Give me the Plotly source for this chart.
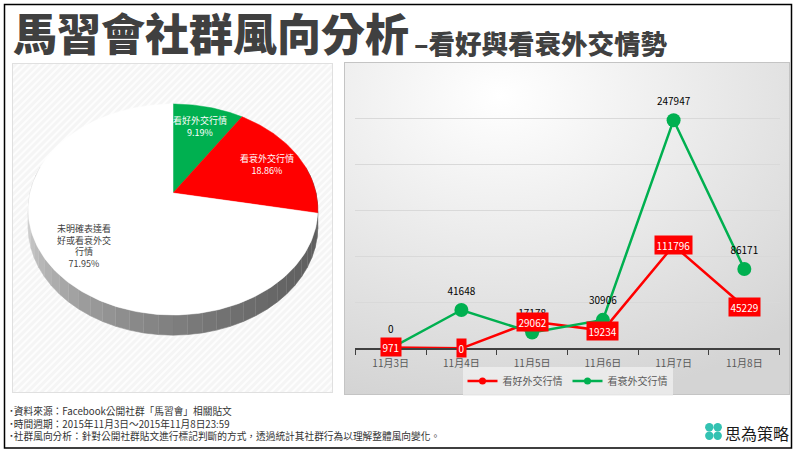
import base64
import math
import plotly.graph_objects as go

# ---------------- data ----------------
dates = ["11月3日", "11月4日", "11月5日", "11月6日", "11月7日", "11月8日"]
good_vals = [971, 0, 29062, 19234, 111796, 45229]        # 看好外交行情 (red)
bad_vals = [0, 41648, 17178, 30906, 247947, 86171]       # 看衰外交行情 (green)
series_names = ["看好外交行情", "看衰外交行情"]

pie_labels = ["看好外交行情", "看衰外交行情", "未明確表達看好或看衰外交行情"]
pie_pcts = [9.19, 18.86, 71.95]
pie_colors = ["#00b050", "#ff0000", "#ffffff"]
pie_text_colors = ["#ffffff", "#ffffff", "#404040"]

title_main = "馬習會社群風向分析"
title_sub = "–看好與看衰外交情勢"
notes = [
    "˙資料來源：Facebook公開社群「馬習會」相關貼文",
    "˙時間週期：2015年11月3日～2015年11月8日23:59",
    "˙社群風向分析：針對公開社群貼文進行標記判斷的方式，透過統計其社群行為以理解整體風向變化。",
]
logo_text = "思為策略"

W, H = 800, 451
FONT = "Noto Sans CJK TC, Noto Sans, sans-serif"
RED = "#ff0000"
GREEN = "#00b050"


def px(x):
    return x / W


def py(y):
    return 1 - y / H


def svg_uri(svg):
    return "data:image/svg+xml;base64," + base64.b64encode(svg.encode("utf-8")).decode("ascii")


fig = go.Figure()

# ---------------- pie (3D-look, perspective ellipse) ----------------
CX, CY, RX, RY, K, DEPTH = 173.0, 193.0, 143.0, 102.9, 0.1565, 17.0


def proj(theta_deg, r=1.0, dz=0.0):
    t = math.radians(theta_deg)
    den = 1 + K * r * math.cos(t)
    return CX + RX * r * math.sin(t) / den, CY - RY * r * math.cos(t) / den + dz / den


# side wall
step = 5
for a in range(75, 285, step):
    b = a + step
    xs, ys = [], []
    for th in [a + i * 0.5 for i in range(int(step / 0.5) + 1)]:
        x, y = proj(th)
        xs.append(x); ys.append(y)
    for th in [b - i * 0.5 for i in range(int(step / 0.5) + 1)]:
        x, y = proj(th, dz=DEPTH)
        xs.append(x); ys.append(y)
    xm = sum(xs) / len(xs)
    t = min(max((xm - (CX - RX)) / (2 * RX), 0), 1)
    g = int(205 - 110 * math.sqrt(t))
    col = f"rgb({g},{g},{g})"
    fig.add_trace(go.Scatter(x=xs, y=ys, xaxis="x2", yaxis="y2", mode="lines",
                             fill="toself", fillcolor=col, line=dict(color=col, width=0.6),
                             hoverinfo="skip", showlegend=False))

# slices
cum = 0.0
for lab, pct, col, tcol in zip(pie_labels, pie_pcts, pie_colors, pie_text_colors):
    a0 = cum * 3.6
    a1 = (cum + pct) * 3.6
    n = max(int((a1 - a0) / 1.0), 2)
    xs, ys = [CX], [CY]
    for i in range(n + 1):
        x, y = proj(a0 + (a1 - a0) * i / n)
        xs.append(x); ys.append(y)
    xs.append(CX); ys.append(CY)
    fig.add_trace(go.Scatter(x=xs, y=ys, xaxis="x2", yaxis="y2", mode="lines",
                             fill="toself", fillcolor=col, line=dict(color=col, width=0.5),
                             hoverinfo="skip", showlegend=False))
    mid = (a0 + a1) / 2
    lx, ly = proj(mid, r=0.75)
    wrapped = "<br>".join(lab[i:i + 6] for i in range(0, len(lab), 6))
    fig.add_annotation(x=lx, y=ly, xref="x2", yref="y2", showarrow=False,
                       text=f"{wrapped}<br>{pct:.2f}%",
                       font=dict(family=FONT, size=9, color=tcol), align="center")
    cum += pct

# ---------------- line chart ----------------
fig.add_trace(go.Scatter(x=dates, y=good_vals, name=series_names[0], mode="lines+markers",
                         line=dict(color=RED, width=2.5), marker=dict(size=7, color=RED),
                         hoverinfo="x+y"))
fig.add_trace(go.Scatter(x=dates, y=bad_vals, name=series_names[1], mode="lines+markers",
                         line=dict(color=GREEN, width=2.5), marker=dict(size=7, color=GREEN),
                         hoverinfo="x+y"))
fig.add_trace(go.Scatter(x=dates, y=bad_vals, mode="markers", showlegend=False,
                         marker=dict(size=14, color=GREEN), hoverinfo="skip"))
fig.add_trace(go.Scatter(x=dates, y=bad_vals, mode="markers+text", showlegend=False,
                         marker=dict(size=19, color="rgba(0,0,0,0)"),
                         text=[str(v) for v in bad_vals], textposition="top center",
                         textfont=dict(family=FONT, size=10, color="#000000"),
                         hoverinfo="skip"))

for d, v in zip(dates, good_vals):
    fig.add_annotation(x=d, y=v, xref="x", yref="y", showarrow=False, text=str(v),
                       bgcolor=RED, borderpad=1.5,
                       font=dict(family=FONT, size=10, color="#ffffff"))

# ---------------- titles / notes ----------------
fig.add_annotation(x=px(11), y=py(32), xref="paper", yref="paper", xanchor="left", yanchor="middle",
                   showarrow=False, text=title_main,
                   font=dict(family=FONT, size=44, color="#404040", weight=900))
fig.add_annotation(x=px(412), y=py(42), xref="paper", yref="paper", xanchor="left", yanchor="middle",
                   showarrow=False, text=title_sub,
                   font=dict(family=FONT, size=26.5, color="#404040", weight=900))
fig.add_annotation(x=px(7), y=py(423.5), xref="paper", yref="paper",
                   xanchor="left", yanchor="middle", showarrow=False, align="left",
                   text="<br>".join(notes),
                   font=dict(family=FONT, size=9.7, color="#333333"))
fig.add_annotation(x=px(723), y=py(433), xref="paper", yref="paper", xanchor="left",
                   yanchor="middle", showarrow=False, text=logo_text,
                   font=dict(family=FONT, size=16, color="#1a1a1a"))

# ---------------- decorations ----------------
pie_bg = ("<svg xmlns='http://www.w3.org/2000/svg' width='321' height='330'><defs>"
          "<pattern id='h' width='5' height='5' patternUnits='userSpaceOnUse' patternTransform='rotate(45)'>"
          "<rect width='5' height='5' fill='#f5f5f5'/><rect width='2' height='5' fill='#fdfdfd'/></pattern></defs>"
          "<rect x='0.5' y='0.5' width='320' height='329' fill='url(#h)' stroke='#e0e0e0'/></svg>")
line_bg = ("<svg xmlns='http://www.w3.org/2000/svg' width='446' height='333'><defs>"
           "<radialGradient id='g' cx='0.35' cy='0.1' r='0.95'>"
           "<stop offset='0' stop-color='#ffffff'/><stop offset='1' stop-color='#d4d4d4'/></radialGradient></defs>"
           "<rect x='0.5' y='0.5' width='445' height='332' fill='url(#g)' stroke='#c4c4c4'/></svg>")
fig.add_layout_image(source=svg_uri(pie_bg), xref="paper", yref="paper", x=px(12), y=py(63),
                     sizex=321 / W, sizey=330 / H, xanchor="left", yanchor="top",
                     sizing="stretch", layer="below")
fig.add_layout_image(source=svg_uri(line_bg), xref="paper", yref="paper", x=px(344), y=py(62),
                     sizex=446 / W, sizey=333 / H, xanchor="left", yanchor="top",
                     sizing="stretch", layer="below")

shapes = [dict(type="rect", xref="x2", yref="y2", x0=4.5, y0=4.5, x1=791.5, y1=448,
               line=dict(color="#000000", width=1.5), fillcolor="rgba(0,0,0,0)", layer="above")]
for (cx, cy) in [(709.3, 427.3), (717.7, 427.3), (709.3, 435.7), (717.7, 435.7)]:
    shapes.append(dict(type="circle", xref="x2", yref="y2", x0=cx - 4.2, x1=cx + 4.2,
                       y0=cy - 4.2, y1=cy + 4.2, fillcolor="#33c2b2", line=dict(width=0)))

fig.update_layout(
    width=W, height=H, margin=dict(l=0, r=0, t=0, b=0),
    paper_bgcolor="#ffffff", plot_bgcolor="rgba(0,0,0,0)",
    font=dict(family=FONT),
    shapes=shapes,
    xaxis=dict(domain=[px(355.3), px(779.7)], type="category", range=[-0.5, 5.5],
               tickson="boundaries", ticks="outside", ticklen=5, tickcolor="#404040",
               showline=True, linecolor="#404040", linewidth=1.5, showgrid=False,
               ticklabelstandoff=5,
               tickfont=dict(family=FONT, size=10, color="#595959"), fixedrange=True),
    yaxis=dict(domain=[py(348.3), py(72.3)], range=[0, 300000], dtick=50000, tick0=0,
               showticklabels=False, showgrid=True, gridcolor="#d9d9d9", gridwidth=1,
               zeroline=False, showline=False, fixedrange=True),
    xaxis2=dict(domain=[0, 1], range=[0, W], visible=False, anchor="y2", fixedrange=True),
    yaxis2=dict(domain=[0, 1], range=[H, 0], visible=False, anchor="x2", fixedrange=True),
    legend=dict(orientation="h", x=px(567.5), xanchor="center", y=py(381), yanchor="middle",
                bgcolor="rgba(240,240,240,0.75)", font=dict(family=FONT, size=10, color="#595959"),
                itemwidth=30, traceorder="normal"),
    showlegend=True,
)

fig.write_html("out.html")
